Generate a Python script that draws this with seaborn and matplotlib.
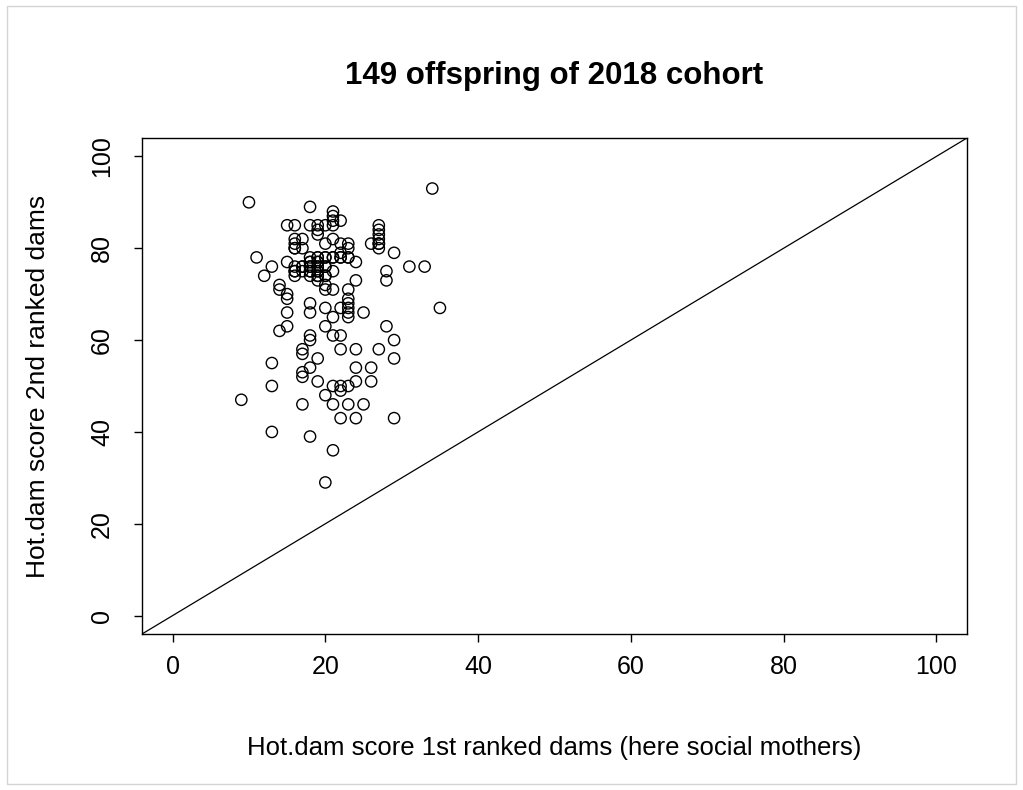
import matplotlib
matplotlib.use("Agg")
import matplotlib.pyplot as plt
from matplotlib.patches import Rectangle
import numpy as np
import pandas as pd
import seaborn as sns

# Hot.dam scores per offspring, grouped by the score of the 1st ranked dam
first_dam = [9, 10, 11, 12,
             13, 13, 13, 13,
             14, 14, 14,
             15, 15, 15, 15, 15, 15,
             16, 16, 16, 16, 16, 16, 16, 16, 16,
             17, 17, 17, 17, 17, 17, 17, 17, 17, 17,
             18, 18, 18, 18, 18, 18, 18, 18, 18, 18, 18, 18, 18, 18, 18, 18,
             19, 19, 19, 19, 19, 19, 19, 19, 19, 19, 19, 19, 19, 19, 19, 19,
             20, 20, 20, 20, 20, 20, 20, 20, 20, 20, 20, 20, 20, 20,
             21, 21, 21, 21, 21, 21, 21, 21, 21, 21, 21, 21, 21, 21,
             22, 22, 22, 22, 22, 22, 22, 22, 22, 22, 22,
             23, 23, 23, 23, 23, 23, 23, 23, 23, 23, 23, 23,
             24, 24, 24, 24, 24, 24,
             25, 25,
             26, 26, 26,
             27, 27, 27, 27, 27, 27, 27, 27,
             28, 28, 28,
             29, 29, 29, 29,
             31, 33, 34, 35]
second_dam = [47, 90, 78, 74,
              76, 55, 50, 40,
              72, 71, 62,
              85, 77, 70, 69, 66, 63,
              85, 82, 81, 80, 80, 76, 75, 75, 74,
              82, 80, 76, 76, 75, 58, 57, 53, 52, 46,
              89, 85, 78, 77, 77, 76, 76, 75, 75, 74, 68, 66, 61, 60, 54, 39,
              85, 84, 83, 78, 78, 77, 77, 76, 76, 75, 75, 74, 74, 73, 56, 51,
              85, 81, 78, 78, 76, 76, 74, 74, 72, 71, 67, 63, 48, 29,
              88, 87, 86, 85, 82, 78, 78, 75, 71, 65, 61, 50, 46, 36,
              86, 81, 79, 78, 78, 67, 61, 58, 50, 49, 43,
              81, 80, 78, 78, 71, 69, 68, 67, 66, 65, 50, 46,
              77, 73, 58, 54, 51, 43,
              66, 46,
              81, 54, 51,
              85, 84, 83, 82, 81, 81, 80, 58,
              75, 73, 63,
              79, 60, 56, 43,
              76, 76, 93, 67]

tick_values = [0, 20, 40, 60, 80, 100]

df = pd.DataFrame({"first": first_dam, "second": second_dam})

sns.set_style("white")
plt.rcParams["font.family"] = ["Liberation Sans", "DejaVu Sans"]
plt.rcParams["text.color"] = "black"
plt.rcParams["axes.labelcolor"] = "black"
plt.rcParams["xtick.color"] = "black"
plt.rcParams["ytick.color"] = "black"

fig = plt.figure(figsize=(10.23, 7.90), dpi=100)
ax = fig.add_axes([142 / 1023, 1 - 634 / 790, (967 - 142) / 1023, (634 - 138) / 790])

sns.scatterplot(data=df, x="first", y="second", ax=ax,
                marker="o", s=66, facecolors="none", edgecolor="black",
                linewidth=1.0, legend=False)

# identity line y = x
ax.axline((0, 0), slope=1, color="black", linewidth=0.9)

ax.set_xlim(-4, 104)
ax.set_ylim(-4, 104)
ax.set_xticks(tick_values)
ax.set_yticks(tick_values)
ax.set_xticklabels([str(v) for v in tick_values], fontsize=18)
ax.set_yticklabels([str(v) for v in tick_values], fontsize=18, rotation=90, va="center")
ax.tick_params(axis="both", which="major", direction="out", length=6, width=1,
               color="black", labelcolor="black", bottom=True, left=True)
ax.tick_params(axis="x", pad=9)
ax.tick_params(axis="y", pad=14)

for side in ax.spines.values():
    side.set_visible(True)
    side.set_color("black")
    side.set_linewidth(1.0)

ax.set_xlabel("Hot.dam score 1st ranked dams (here social mothers)", fontsize=18.5,
              labelpad=41, color="black")
ax.set_ylabel("Hot.dam score 2nd ranked dams", fontsize=19, labelpad=29, color="black")
ax.set_title("149 offspring of 2018 cohort", fontsize=22.5, fontweight="bold", pad=39,
             color="black")

fig.patches.append(Rectangle((7 / 1023, 6 / 790), 1009 / 1023, 778 / 790,
                             transform=fig.transFigure, fill=False,
                             edgecolor="#d4d4d4", linewidth=1))

fig.savefig("out.png", dpi=100, facecolor="white")
